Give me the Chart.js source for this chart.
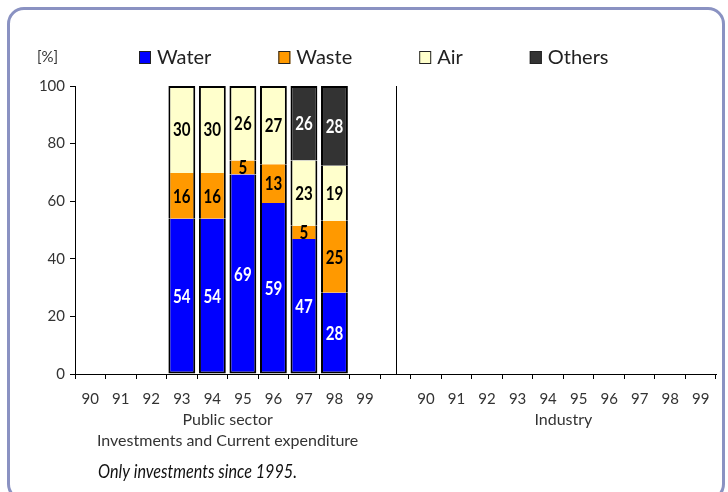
<!DOCTYPE html>
<html>
<head>
<meta charset="utf-8">
<script src="https://cdn.jsdelivr.net/npm/chart.js@4/dist/chart.umd.min.js"></script>
<style>
  html, body { margin: 0; padding: 0; background: #fff; }
  #wrap { position: relative; width: 728px; height: 492px; overflow: hidden; }
  #frame { position: absolute; left: 7px; top: 7px; width: 718px; height: 494px; box-sizing: border-box;
           border: 3px solid #8a92c2; border-radius: 17px; pointer-events: none; }
  canvas { position: absolute; left: 0; top: 0; }
</style>
</head>
<body>
<div id="wrap">
  <canvas id="c" width="728" height="492"></canvas>
  <div id="frame"></div>
</div>
<script>
// ---- data ----
const categories = ['90','91','92','93','94','95','96','97','98','99','',
                    '90','91','92','93','94','95','96','97','98','99'];
const water  = [null,null,null,53.9,53.9,69.3,59.4,46.9,28.2,null,null, null,null,null,null,null,null,null,null,null,null];
const waste  = [null,null,null,15.9,15.9, 4.8,13.4, 4.6,25.0,null,null, null,null,null,null,null,null,null,null,null,null];
const air    = [null,null,null,30.2,30.2,25.9,27.2,22.6,19.1,null,null, null,null,null,null,null,null,null,null,null,null];
const others = [null,null,null,null,null,null,null,25.9,27.7,null,null, null,null,null,null,null,null,null,null,null,null];
const seriesNames = ['Water','Waste','Air','Others'];
const groupNames = ['Public sector','Industry'];
const groupFirst = [0, 11];
const groupLast  = [9, 20];
const groupSubtitle = 'Investments and Current expenditure';
const footnote = 'Only investments since 1995.';
const yTicks = [0,20,40,60,80,100];

const colors = ['#0000ff','#ff9900','#ffffcc','#333333'];
const labelColors = ['#ffffff','#000000','#000000','#ffffff'];
const FONT = 'Lato, "DejaVu Sans", sans-serif';

function borderFor(ctx) {
  const i = ctx.dataIndex, d = ctx.datasetIndex;
  const sets = ctx.chart.data.datasets;
  let top = -1, bottom = -1;
  sets.forEach((s, k) => { if (s.data[i] != null) { if (bottom < 0) bottom = k; top = k; } });
  return { left: 2, right: 2, top: d === top ? 2 : 0, bottom: d === bottom ? 2 : 0 };
}

const seriesData = [water, waste, air, others];
const datasets = seriesData.map((arr, k) => ({
  label: seriesNames[k],
  data: arr,
  backgroundColor: colors[k],
  borderColor: '#000000',
  borderWidth: borderFor,
  borderSkipped: false,
  categoryPercentage: 1.0,
  barPercentage: 0.88
}));

// draw condensed text (horizontal squeeze)
function squeezedText(ctx, text, x, y, sx) {
  ctx.save();
  ctx.translate(x, y);
  ctx.scale(sx, 1);
  ctx.fillText(text, 0, 0);
  ctx.restore();
}

const extras = {
  id: 'extras',
  afterDatasetsDraw(chart) {
    const ctx = chart.ctx;
    const xs = chart.scales.x;
    const area = chart.chartArea;
    // separator line between the two groups
    const sepX = Math.round(xs.getPixelForValue(10)) + 0.5;
    ctx.save();
    ctx.strokeStyle = '#000'; ctx.lineWidth = 1;
    ctx.beginPath(); ctx.moveTo(sepX, area.top); ctx.lineTo(sepX, area.bottom); ctx.stroke();
    // data labels
    ctx.font = 'bold 18px ' + FONT;
    ctx.textAlign = 'center'; ctx.textBaseline = 'middle';
    chart.data.datasets.forEach((ds, k) => {
      const meta = chart.getDatasetMeta(k);
      meta.data.forEach((el, i) => {
        const v = ds.data[i];
        if (v == null) return;
        ctx.fillStyle = labelColors[k];
        squeezedText(ctx, String(Math.round(v)), el.x, (el.y + el.base) / 2 + 1, 0.84);
      });
    });
    ctx.restore();
  },
  afterDraw(chart) {
    const ctx = chart.ctx;
    const xs = chart.scales.x;
    const area = chart.chartArea;
    ctx.save();
    ctx.fillStyle = '#333';
    // group labels
    ctx.font = '16px ' + FONT;
    ctx.textAlign = 'center'; ctx.textBaseline = 'alphabetic';
    groupNames.forEach((g, j) => {
      const cx = (xs.getPixelForValue(groupFirst[j]) + xs.getPixelForValue(groupLast[j])) / 2;
      ctx.fillText(g, cx, area.bottom + 51);
      if (j === 0) ctx.fillText(groupSubtitle, cx, area.bottom + 72);
    });
    // [%] unit label
    ctx.textAlign = 'left'; ctx.textBaseline = 'middle';
    ctx.font = '15px ' + FONT;
    ctx.fillText('[%]', 37, 57);
    // legend
    ctx.font = '20px ' + FONT;
    let x = 139;
    chart.data.datasets.forEach((ds, k) => {
      ctx.fillStyle = ds.backgroundColor;
      ctx.fillRect(x, 51, 12, 13);
      ctx.strokeStyle = '#222'; ctx.lineWidth = 1;
      ctx.strokeRect(x + 0.5, 51.5, 11, 12);
      ctx.fillStyle = '#222';
      ctx.fillText(ds.label, x + 18, 58);
      x += 18 + ctx.measureText(ds.label).width + 67;
    });
    // footnote (condensed italic)
    ctx.font = 'italic 19px ' + FONT;
    ctx.fillStyle = '#111';
    ctx.textBaseline = 'alphabetic';
    const w = ctx.measureText(footnote).width;
    squeezedText(ctx, footnote, 98, 478, 199 / w);
    ctx.restore();
  }
};

new Chart(document.getElementById('c'), {
  type: 'bar',
  data: { labels: categories, datasets },
  options: {
    responsive: false,
    animation: false,
    events: [],
    layout: { padding: { left: 0, right: 12, top: 86, bottom: 0 } },
    plugins: { legend: { display: false }, tooltip: { enabled: false } },
    scales: {
      x: {
        stacked: true,
        afterFit(s) { s.height = 118; },
        grid: { offset: true, drawOnChartArea: false, drawTicks: true, tickLength: 5, color: '#000' },
        border: { display: true, color: '#000', width: 1 },
        ticks: { autoSkip: false, maxRotation: 0, minRotation: 0, padding: 11, color: '#333', font: { family: FONT, size: 15 } }
      },
      y: {
        stacked: true,
        min: 0, max: 100,
        afterFit(s) { s.width = 75; },
        afterBuildTicks(s) { s.ticks = yTicks.map(v => ({ value: v })); },
        grid: { drawOnChartArea: false, drawTicks: true, tickLength: 5, color: '#000' },
        border: { display: true, color: '#000', width: 1 },
        ticks: { padding: 5, color: '#333', font: { family: FONT, size: 15 } }
      }
    }
  },
  plugins: [extras]
});
</script>
</body>
</html>
